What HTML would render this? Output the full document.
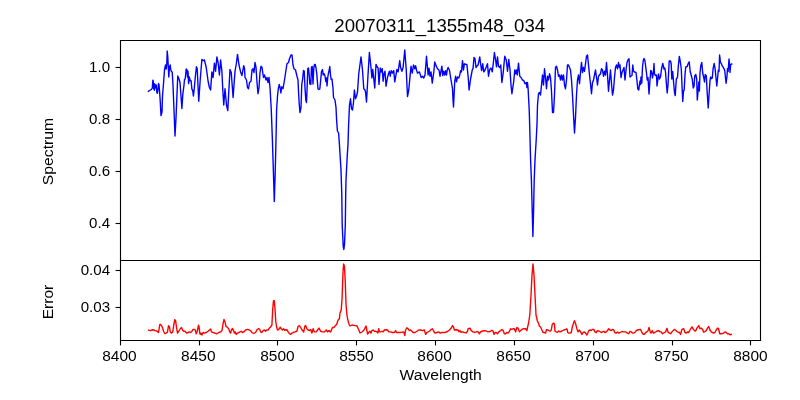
<!DOCTYPE html><html><head><meta charset="utf-8"><style>html,body{margin:0;padding:0;background:#fff;width:800px;height:400px;overflow:hidden}svg{display:block;will-change:transform}text{font-family:"Liberation Sans", sans-serif;fill:#000}</style></head><body>
<svg width="800" height="400" viewBox="0 0 800 400">
<rect width="800" height="400" fill="#fff"/>
<path d="M148.40 91.40L149.90 90.25L151.40 89.50L152.30 88.00L152.90 80.10L153.30 81.00L153.60 88.75L154.00 83.50L154.40 90.25L154.75 84.25L155.35 85.00L155.80 88.00L156.25 85.00L156.85 92.50L157.40 93.25L157.90 90.00L158.50 83.50L159.00 84.50L159.60 92.00L160.10 99.00L161.00 115.60L162.00 112.00L162.50 96.00L163.40 85.00L164.50 70.00L165.50 65.00L166.20 69.00L166.80 64.00L167.20 51.00L167.80 57.00L168.20 65.00L168.80 77.00L169.50 67.00L170.20 65.00L170.80 70.00L171.50 71.50L172.20 72.00L173.00 85.00L174.20 115.00L175.00 136.00L176.00 118.00L177.75 76.00L179.00 79.00L180.00 82.50L181.90 108.50L182.80 94.40L184.00 85.00L184.50 79.50L185.20 79.00L186.20 69.00L187.00 70.00L187.50 77.00L188.00 71.25L188.60 83.60L189.35 76.90L190.25 80.80L191.10 80.80L191.90 89.25L192.70 90.40L193.40 96.00L194.20 89.25L195.20 78.00L196.40 66.75L197.20 68.50L198.75 101.25L200.20 80.00L201.90 59.40L203.10 60.60L204.40 60.00L206.25 67.50L208.10 81.25L209.40 87.50L210.60 90.00L211.90 71.90L213.10 77.50L214.40 63.10L215.60 71.25L216.90 56.90L218.10 62.50L219.40 75.00L220.60 60.00L221.90 71.25L222.80 90.00L223.75 105.00L225.00 88.75L226.50 105.00L227.75 110.60L229.00 88.00L230.00 69.40L231.25 72.50L233.10 97.50L235.00 71.25L236.30 64.00L237.50 54.40L239.00 65.00L240.60 71.90L241.90 75.60L243.75 65.60L244.50 68.75L245.00 77.50L246.50 80.00L247.50 87.50L248.50 88.75L249.50 82.50L251.00 81.25L252.00 70.00L253.00 68.75L254.00 72.50L255.00 62.50L256.00 67.50L257.00 82.50L258.00 93.75L259.00 87.50L260.00 72.50L261.00 66.25L262.00 67.50L263.50 77.50L264.50 75.00L266.00 80.00L267.00 77.50L268.00 82.50L269.00 77.50L270.00 87.50L271.20 108.00L272.40 140.00L273.40 172.00L274.30 201.50L275.20 172.00L276.00 140.00L276.60 110.00L277.50 96.00L278.30 89.00L279.20 84.50L280.20 88.00L280.90 93.00L281.75 86.75L283.00 88.75L284.50 80.00L286.00 70.00L287.00 63.75L288.50 62.50L289.50 58.75L291.00 55.00L292.00 55.00L293.00 65.00L294.00 68.75L295.50 70.00L297.00 76.25L298.00 80.00L298.70 95.00L299.30 105.00L300.00 112.50L301.00 107.50L301.80 84.00L302.50 80.00L303.50 70.50L304.20 71.00L305.00 88.00L305.80 100.00L306.50 102.50L307.10 88.00L307.80 68.50L308.50 68.00L309.20 75.00L309.80 84.00L310.80 84.50L311.50 67.00L312.20 66.50L313.00 84.00L313.80 68.00L314.50 64.50L315.20 64.50L316.00 68.00L316.80 74.00L317.50 83.00L318.00 89.00L319.00 89.50L319.80 89.00L320.50 82.00L321.50 71.50L322.50 69.50L323.20 75.00L324.00 73.50L325.00 76.00L325.80 81.50L326.50 78.00L327.00 86.00L327.80 77.00L328.50 73.00L329.20 70.00L329.80 66.50L330.50 75.00L331.20 79.50L332.00 79.00L332.50 84.00L333.00 88.00L333.50 97.50L335.00 100.00L336.00 107.50L336.60 120.00L337.40 131.00L338.60 133.00L339.40 144.00L341.00 170.00L341.80 195.00L342.20 225.00L343.20 246.00L343.80 249.50L344.50 244.50L345.30 225.00L345.70 195.00L346.00 180.00L347.00 160.00L348.00 144.00L348.60 125.00L349.50 105.00L350.50 98.75L351.50 108.75L352.50 110.00L353.50 102.50L354.40 90.00L355.50 98.75L356.50 96.25L357.50 92.00L358.75 73.75L361.00 56.90L362.50 70.00L363.75 88.75L365.00 90.00L365.60 92.50L366.50 102.00L368.00 75.00L369.40 52.50L371.25 70.00L371.90 78.00L372.75 69.40L374.75 88.00L376.00 64.40L377.25 67.00L378.10 68.00L379.00 84.40L380.25 68.00L381.25 72.00L382.25 68.75L383.10 81.25L384.00 73.75L385.00 71.25L386.00 86.25L387.50 77.50L388.50 73.75L389.40 71.25L390.25 76.25L391.25 70.60L392.50 73.10L393.75 70.60L394.75 81.90L396.00 75.00L396.90 69.40L398.10 71.90L399.75 60.60L400.60 67.50L401.90 71.25L403.10 67.50L404.75 50.00L406.25 70.00L407.50 96.50L408.75 90.00L411.00 66.25L412.25 73.10L413.50 65.00L414.75 68.75L415.60 65.60L416.50 70.00L417.50 73.10L419.40 71.90L421.25 77.50L422.50 76.25L423.75 78.10L425.00 75.00L426.50 56.25L428.10 75.00L429.00 68.10L430.00 76.25L431.00 71.90L432.25 83.10L433.75 72.50L434.75 61.90L436.00 65.60L437.50 68.75L439.00 70.00L440.00 76.25L441.00 71.00L441.90 66.25L442.75 75.60L443.75 71.25L444.75 75.00L445.60 70.60L446.50 75.00L447.25 70.00L448.10 67.50L449.40 70.00L451.25 81.25L452.50 88.75L453.00 100.00L453.50 107.00L454.75 81.25L455.60 76.25L456.50 81.90L457.50 76.90L458.75 78.10L459.75 75.00L460.60 70.60L461.50 71.90L462.50 60.60L463.50 70.00L464.40 63.75L465.60 64.40L466.90 64.40L468.10 76.25L469.10 90.00L470.60 78.75L472.25 70.00L473.10 68.10L474.00 57.50L475.00 58.75L476.00 67.50L477.25 65.60L478.10 65.00L479.75 56.90L480.60 63.75L481.60 70.60L482.75 63.75L483.75 71.90L485.00 70.00L486.25 66.90L487.50 63.75L488.50 76.25L489.75 69.40L491.00 68.10L492.25 71.90L493.25 63.75L494.40 52.50L495.60 60.00L496.50 66.90L497.50 56.90L498.50 66.25L499.75 67.50L500.75 65.00L501.90 82.50L503.10 73.75L504.75 56.25L506.25 60.00L507.50 71.25L508.75 59.40L510.00 70.00L511.00 85.00L511.90 93.75L513.75 81.25L514.75 70.00L515.60 73.75L516.50 70.00L517.25 75.00L518.50 63.10L519.75 76.25L521.00 77.50L522.50 80.00L523.75 80.60L525.00 83.75L526.25 82.50L526.90 87.50L527.50 82.50L528.10 88.75L528.80 102.00L529.30 112.00L529.80 130.00L530.60 160.00L531.40 180.00L532.20 210.00L532.90 236.50L533.60 210.00L534.20 180.00L535.00 160.00L536.20 140.00L537.00 124.00L537.50 105.00L538.50 93.75L539.50 92.50L540.50 95.00L541.50 85.00L542.50 75.00L543.50 85.00L544.50 68.75L545.50 77.50L546.50 88.75L547.50 76.25L548.50 80.00L549.50 73.75L550.50 77.50L551.50 91.25L552.50 112.50L553.50 112.50L554.50 95.00L555.50 67.50L556.50 66.25L557.50 70.00L558.50 76.25L559.50 75.00L560.50 80.00L561.50 75.00L562.50 80.00L563.50 75.00L564.50 85.00L565.50 88.75L566.50 80.00L567.50 65.00L568.50 65.00L569.50 67.50L570.50 70.00L571.50 80.00L572.50 95.00L573.50 115.00L574.50 133.00L575.50 117.50L576.50 95.00L577.50 80.00L578.50 75.00L579.50 83.75L580.50 72.50L581.50 62.50L582.50 72.50L583.50 67.50L584.50 71.25L585.50 63.75L586.50 56.25L587.50 55.00L588.50 65.00L589.50 75.00L590.50 83.75L591.50 93.75L592.50 82.50L593.50 80.00L594.50 75.00L595.50 70.00L596.50 77.50L597.50 85.00L598.50 76.25L599.50 75.00L600.50 73.75L601.50 68.75L602.50 70.00L603.50 76.25L604.50 71.25L605.50 75.00L606.50 62.50L607.50 75.00L608.50 91.25L609.50 80.00L610.50 70.00L611.50 83.75L612.50 95.00L613.50 90.00L614.50 77.50L615.50 67.50L616.50 65.00L617.50 68.75L618.50 62.50L619.30 67.50L620.00 65.00L621.00 77.50L622.00 72.50L623.00 70.00L624.00 67.50L625.00 80.00L626.00 70.00L627.00 62.50L628.00 60.00L629.00 58.75L630.00 77.00L631.00 76.00L632.00 75.50L632.80 65.00L633.50 71.00L634.50 72.00L636.00 72.50L637.00 81.00L637.80 89.00L638.80 90.00L639.50 84.00L640.00 81.00L640.50 84.50L641.00 77.00L641.80 83.00L642.50 67.00L643.20 61.00L644.00 58.50L644.80 60.00L645.50 65.00L646.50 73.00L647.20 80.00L648.00 77.50L649.00 94.00L650.00 80.00L650.80 70.50L651.50 71.00L652.50 78.00L653.50 71.50L654.00 63.50L654.50 74.00L655.50 75.50L656.50 75.00L657.00 86.00L657.80 80.00L658.50 74.00L659.50 79.00L660.50 77.00L661.50 69.00L662.80 63.50L664.00 69.00L664.80 68.00L665.50 72.00L666.50 85.00L667.20 93.00L668.00 85.00L669.20 61.00L670.00 61.00L670.50 61.00L671.20 64.00L671.80 79.00L672.70 71.50L673.30 79.00L674.50 92.50L675.25 95.50L676.30 79.00L677.50 77.50L678.25 67.00L679.30 56.50L680.20 61.00L681.25 68.50L682.00 85.00L682.75 101.50L683.50 91.00L684.20 90.00L685.00 74.50L685.75 67.00L687.20 66.50L688.00 64.00L689.20 61.75L690.20 71.50L691.00 74.50L692.20 79.00L693.25 88.00L694.00 86.50L694.75 76.00L695.80 74.50L696.70 79.00L697.30 100.00L698.20 89.50L698.80 82.00L699.40 91.00L700.00 73.00L700.80 65.50L701.80 62.50L702.70 73.00L703.70 77.50L704.50 82.00L705.20 74.50L706.30 76.00L707.20 92.50L708.20 108.00L709.30 91.00L710.00 80.50L710.60 77.00L711.50 78.70L712.30 78.00L713.10 68.60L714.20 63.50L715.10 68.60L716.00 78.00L716.80 86.00L717.60 78.00L718.30 70.25L719.00 71.40L719.60 55.00L720.50 62.40L721.30 63.50L722.10 65.70L723.00 66.90L723.90 68.60L724.70 70.25L725.50 78.00L726.10 83.20L726.90 77.00L727.50 68.60L728.10 71.40L728.60 64.60L729.00 59.00L729.50 63.50L730.00 72.50L730.60 64.60L731.75 64.00" fill="none" stroke="#0000ff" stroke-width="1.39" stroke-linejoin="round" stroke-linecap="square"/>
<path d="M148.50 330.25L150.60 330.60L152.50 329.75L153.75 330.00L155.00 330.60L156.90 331.00L158.50 332.50L159.75 324.75L160.60 324.40L161.50 325.60L162.50 327.50L163.50 331.25L164.75 333.50L166.25 333.10L167.50 331.90L168.50 325.60L169.50 326.90L170.25 331.90L171.25 333.10L172.75 331.90L173.75 325.00L174.75 319.75L175.60 320.60L176.50 327.50L177.50 333.10L178.75 331.25L180.25 328.75L181.50 327.50L182.50 330.00L183.75 331.25L185.00 331.25L186.50 333.10L188.10 332.50L189.40 331.90L190.60 332.50L191.90 331.25L193.10 329.40L194.40 329.40L195.25 330.00L196.25 333.75L197.25 331.25L198.50 325.25L199.00 326.25L199.75 333.10L200.25 334.40L201.00 333.10L201.90 335.00L203.10 332.50L204.40 333.10L206.25 332.50L208.10 331.25L209.40 330.00L210.60 329.00L211.50 331.90L213.10 332.50L215.00 333.10L216.90 333.75L218.75 332.50L220.60 331.90L221.90 330.60L223.10 323.75L224.00 319.40L225.00 321.90L226.00 326.25L227.50 327.50L228.75 328.75L229.75 331.90L230.60 333.10L231.50 330.00L232.50 328.50L233.50 330.60L234.40 333.10L235.25 331.90L236.25 334.40L237.50 333.10L238.75 332.50L240.00 331.90L241.25 331.25L242.50 332.50L243.75 331.90L245.60 330.00L247.50 329.40L249.40 330.00L250.60 330.60L251.90 332.50L253.75 333.50L255.60 332.50L256.90 329.75L258.75 328.50L259.75 329.40L260.60 331.90L261.90 332.50L263.10 330.60L264.40 330.00L265.60 331.25L266.90 330.00L268.10 330.00L269.40 328.10L270.60 326.90L271.90 325.00L272.75 308.75L273.50 300.60L274.25 300.60L275.00 308.75L275.75 321.25L276.50 326.25L277.50 330.00L278.75 329.40L280.25 327.25L281.25 328.75L282.50 330.00L283.50 328.75L284.75 330.25L286.00 329.75L287.25 330.00L288.10 331.90L289.40 333.50L290.60 334.40L291.90 333.10L293.10 332.50L295.00 331.90L296.90 331.25L298.10 326.25L299.40 325.60L300.60 327.50L302.50 330.60L303.75 331.90L304.75 326.25L305.60 325.60L306.90 328.75L308.10 330.00L309.40 330.60L310.60 329.40L311.90 333.10L313.10 328.75L314.40 331.90L316.25 331.90L317.50 330.00L319.00 328.10L320.60 331.25L322.50 331.90L324.40 331.90L326.25 330.00L327.50 331.90L329.00 330.60L330.60 331.90L332.50 327.50L334.00 327.25L335.60 325.60L336.90 323.75L338.10 320.00L339.40 318.75L340.00 313.00L341.20 310.00L342.00 300.00L343.00 272.00L343.60 264.00L344.40 266.00L345.20 280.00L346.00 304.00L346.80 314.00L347.60 319.00L349.00 324.00L350.00 326.00L352.00 325.00L355.00 325.60L357.00 326.00L358.40 329.00L360.00 333.00L362.00 332.00L364.00 330.00L366.00 326.00L367.60 334.00L369.00 332.00L370.00 331.25L371.00 333.10L371.90 330.60L373.10 330.00L374.40 331.25L375.60 331.25L376.90 331.90L377.75 333.10L378.75 328.75L379.40 331.90L380.60 331.90L381.90 331.25L383.10 331.90L384.40 330.00L386.25 329.75L387.50 330.00L388.75 331.90L390.60 331.90L392.50 332.50L394.40 332.50L395.60 330.60L396.50 332.50L398.10 332.50L400.00 332.50L401.90 332.25L403.75 331.90L404.75 335.60L405.60 330.00L406.90 327.75L408.10 328.75L409.40 330.60L410.60 330.00L411.90 331.25L413.10 332.50L415.00 332.50L416.90 331.25L418.75 330.00L420.60 330.00L422.50 330.60L424.40 330.00L425.60 334.40L426.90 332.50L428.10 331.90L429.40 331.25L431.25 329.40L432.50 328.75L433.75 331.25L435.00 333.10L436.90 332.50L438.75 331.90L440.00 333.10L441.90 332.50L443.75 332.50L445.60 332.25L447.50 331.50L449.40 330.00L451.25 328.10L452.50 325.60L453.50 326.90L454.40 330.00L456.25 329.75L458.10 330.00L459.00 331.90L460.00 330.60L461.00 332.25L462.50 331.90L464.40 332.50L466.25 332.75L467.50 331.25L468.10 328.75L470.00 328.10L471.25 330.60L473.10 331.90L475.00 332.50L476.90 331.50L478.10 331.90L479.40 333.75L480.60 331.90L482.50 331.00L484.40 330.60L486.25 331.00L488.10 331.90L490.00 331.50L491.90 330.25L493.10 331.25L494.00 334.40L495.00 332.50L496.25 332.50L497.50 333.75L498.75 331.90L500.60 330.60L501.90 329.40L503.10 330.60L504.40 333.75L505.60 333.75L506.90 332.50L508.10 333.10L509.40 331.25L510.60 328.75L511.90 329.40L513.10 328.75L514.40 328.75L515.60 331.90L516.90 327.50L518.10 328.10L519.40 331.90L520.60 330.60L521.90 329.40L523.75 328.75L525.60 328.75L526.90 330.60L527.40 328.00L528.60 323.00L529.80 315.00L531.00 295.00L532.00 275.00L533.00 264.00L534.00 275.00L535.00 295.00L536.00 315.00L537.40 321.00L538.50 323.10L539.40 326.25L540.60 326.90L541.90 330.00L543.10 332.50L544.40 332.50L545.60 333.10L546.50 329.75L548.10 330.00L550.00 331.25L551.25 330.00L552.25 324.40L553.50 323.10L554.40 323.75L555.00 331.25L556.25 331.90L557.50 332.25L558.75 331.00L560.00 331.90L561.90 331.00L563.75 330.00L565.60 329.40L566.90 328.75L567.75 332.50L568.75 333.10L570.00 333.10L571.25 332.50L572.50 326.25L574.40 320.60L575.60 323.75L576.90 328.75L578.10 331.90L579.40 330.00L580.60 331.90L581.90 334.40L583.10 332.50L584.40 331.90L585.60 333.10L586.90 335.00L588.10 332.50L588.75 330.60L590.00 330.00L591.25 330.60L592.50 329.40L593.75 329.40L595.00 331.90L596.25 332.50L597.50 330.60L599.40 331.25L601.25 332.50L602.50 331.90L603.75 331.25L605.00 332.50L606.25 331.90L607.50 330.60L608.75 328.75L610.00 330.00L611.25 330.60L612.50 329.40L613.75 330.00L614.75 332.50L616.25 333.10L617.50 331.90L618.75 333.10L620.00 332.50L621.90 331.50L623.75 331.90L625.60 331.90L627.50 333.10L628.75 333.75L630.00 331.25L631.25 331.90L632.50 333.10L633.75 333.10L635.00 332.25L636.25 330.60L637.50 330.00L638.75 329.75L640.60 329.40L641.90 332.50L643.10 334.00L644.40 334.40L645.60 332.50L646.90 331.90L648.10 330.60L649.00 327.50L650.00 331.25L651.00 333.10L652.25 330.60L653.50 333.10L654.75 332.50L656.25 331.50L657.50 331.00L658.75 330.60L660.00 331.90L661.25 331.90L662.50 333.75L664.40 332.50L665.60 331.90L666.90 328.30L668.10 332.20L669.40 333.10L670.60 333.75L671.90 331.90L673.10 330.60L674.40 329.40L675.60 330.25L676.90 331.50L678.10 332.25L679.40 332.50L680.60 334.40L681.90 329.40L683.75 328.75L685.00 332.50L686.25 333.10L687.50 331.90L688.75 332.50L690.00 330.00L691.90 326.90L693.10 328.75L694.40 330.60L695.60 331.00L696.90 328.10L698.75 325.60L700.00 328.75L701.25 328.10L702.50 329.40L703.75 332.25L705.00 331.50L706.25 330.60L707.50 328.10L708.75 326.50L710.00 330.00L711.25 331.90L712.50 332.50L713.75 333.10L715.00 332.25L716.25 330.00L717.50 328.10L718.50 328.50L719.75 333.75L721.25 333.75L722.50 333.50L723.75 333.10L725.00 331.90L726.00 332.25L727.50 333.75L728.75 333.75L730.00 334.75L731.25 334.40" fill="none" stroke="#ff0000" stroke-width="1.39" stroke-linejoin="round" stroke-linecap="square"/>
<g stroke="#000" stroke-width="1.11" fill="none" stroke-linecap="square">
<path d="M120.5 40.5H760.5V340.5H120.5Z"/>
<path d="M120.5 260.5H760.5"/>
<path d="M120.5 340.5V345.4" stroke-linecap="butt"/>
<path d="M199.5 340.5V345.4" stroke-linecap="butt"/>
<path d="M277.5 340.5V345.4" stroke-linecap="butt"/>
<path d="M356.5 340.5V345.4" stroke-linecap="butt"/>
<path d="M435.5 340.5V345.4" stroke-linecap="butt"/>
<path d="M514.5 340.5V345.4" stroke-linecap="butt"/>
<path d="M593.5 340.5V345.4" stroke-linecap="butt"/>
<path d="M672.5 340.5V345.4" stroke-linecap="butt"/>
<path d="M750.5 340.5V345.4" stroke-linecap="butt"/>
<path d="M115.6 67.5H120.5" stroke-linecap="butt"/>
<path d="M115.6 119.5H120.5" stroke-linecap="butt"/>
<path d="M115.6 171.5H120.5" stroke-linecap="butt"/>
<path d="M115.6 223.5H120.5" stroke-linecap="butt"/>
<path d="M115.6 270.5H120.5" stroke-linecap="butt"/>
<path d="M115.6 307.5H120.5" stroke-linecap="butt"/>
</g>
<text x="119.40" y="361" font-size="14.00" text-anchor="middle" textLength="34.42" lengthAdjust="spacingAndGlyphs">8400</text>
<text x="198.30" y="361" font-size="14.00" text-anchor="middle" textLength="34.42" lengthAdjust="spacingAndGlyphs">8450</text>
<text x="277.40" y="361" font-size="14.00" text-anchor="middle" textLength="34.42" lengthAdjust="spacingAndGlyphs">8500</text>
<text x="356.40" y="361" font-size="14.00" text-anchor="middle" textLength="34.42" lengthAdjust="spacingAndGlyphs">8550</text>
<text x="434.55" y="361" font-size="14.00" text-anchor="middle" textLength="34.42" lengthAdjust="spacingAndGlyphs">8600</text>
<text x="513.60" y="361" font-size="14.00" text-anchor="middle" textLength="34.42" lengthAdjust="spacingAndGlyphs">8650</text>
<text x="592.40" y="361" font-size="14.00" text-anchor="middle" textLength="34.42" lengthAdjust="spacingAndGlyphs">8700</text>
<text x="671.40" y="361" font-size="14.00" text-anchor="middle" textLength="34.42" lengthAdjust="spacingAndGlyphs">8750</text>
<text x="750.40" y="361" font-size="14.00" text-anchor="middle" textLength="34.42" lengthAdjust="spacingAndGlyphs">8800</text>
<text x="110.1" y="72.40" font-size="14.00" text-anchor="end" textLength="20.98" lengthAdjust="spacingAndGlyphs">1.0</text>
<text x="110.1" y="124.40" font-size="14.00" text-anchor="end" textLength="20.98" lengthAdjust="spacingAndGlyphs">0.8</text>
<text x="110.1" y="176.40" font-size="14.00" text-anchor="end" textLength="20.98" lengthAdjust="spacingAndGlyphs">0.6</text>
<text x="110.1" y="228.40" font-size="14.00" text-anchor="end" textLength="20.98" lengthAdjust="spacingAndGlyphs">0.4</text>
<text x="110.1" y="275.40" font-size="14.00" text-anchor="end" textLength="29.37" lengthAdjust="spacingAndGlyphs">0.04</text>
<text x="110.1" y="312.40" font-size="14.00" text-anchor="end" textLength="29.37" lengthAdjust="spacingAndGlyphs">0.03</text>
<text x="440.7" y="380.4" font-size="14.00" text-anchor="middle" textLength="82.30" lengthAdjust="spacingAndGlyphs">Wavelength</text>
<text transform="translate(52.6 151.5) rotate(-90)" font-size="14.00" text-anchor="middle" textLength="67.31" lengthAdjust="spacingAndGlyphs">Spectrum</text>
<text transform="translate(52.9 302) rotate(-90)" font-size="14.00" text-anchor="middle" textLength="34.41" lengthAdjust="spacingAndGlyphs">Error</text>
<text x="439.7" y="32" font-size="18" text-anchor="middle" textLength="210.80" lengthAdjust="spacingAndGlyphs">20070311_1355m48_034</text>
</svg></body></html>
